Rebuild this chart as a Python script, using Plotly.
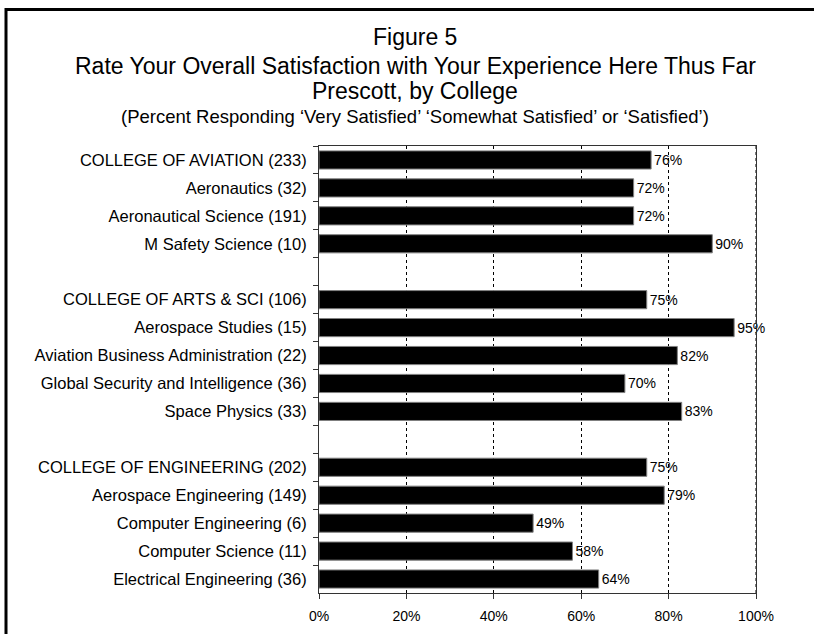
import plotly.graph_objects as go

# survey data (blank rows separate the colleges)
programs = [
    "COLLEGE OF AVIATION (233)",
    "Aeronautics (32)",
    "Aeronautical Science (191)",
    "M Safety Science (10)",
    " ",
    "COLLEGE OF ARTS & SCI (106)",
    "Aerospace Studies (15)",
    "Aviation Business Administration (22)",
    "Global Security and Intelligence (36)",
    "Space Physics (33)",
    "  ",
    "COLLEGE OF ENGINEERING (202)",
    "Aerospace Engineering (149)",
    "Computer Engineering (6)",
    "Computer Science (11)",
    "Electrical Engineering (36)",
]
pct_satisfied = [76, 72, 72, 90, None, 75, 95, 82, 70, 83, None, 75, 79, 49, 58, 64]
x_ticks = [0, 20, 40, 60, 80, 100]
x_tick_labels = ["0%", "20%", "40%", "60%", "80%", "100%"]

title_lines = [
    "Figure 5",
    "Rate Your Overall Satisfaction with Your Experience Here Thus Far",
    "Prescott, by College",
]
subtitle = "(Percent Responding \u2018Very Satisfied\u2019 \u2018Somewhat Satisfied\u2019 or \u2018Satisfied\u2019)"

W, H = 814, 634
L, R, T, B = 319, 58, 146, 41
FONT = "Liberation Sans, Arial, sans-serif"


def px(x):
    return (x - L) / (W - L - R)


def py(y):
    return (H - B - y) / (H - T - B)


bar_text = ["" if v is None else "%d%%" % v for v in pct_satisfied]

fig = go.Figure()
fig.add_trace(go.Bar(
    x=pct_satisfied, y=programs, orientation="h",
    width=0.65,
    marker=dict(color="black", line=dict(color="#808080", width=1)),
    text=bar_text, textposition="outside", cliponaxis=False,
    textfont=dict(size=14, color="black", family=FONT),
    hoverinfo="skip",
))

# title block
for txt, yc, sz in [(title_lines[0], 37, 23), (title_lines[1], 66, 23),
                    (title_lines[2], 91, 23), (subtitle, 116, 18.5)]:
    fig.add_annotation(text=txt, x=px(415), y=py(yc), xref="paper", yref="paper",
                       xanchor="center", yanchor="middle", showarrow=False,
                       font=dict(size=sz, color="black", family=FONT))

# frame around the whole chart (cut off at right and bottom)
fig.add_shape(type="line", xref="paper", yref="paper", x0=px(5), x1=px(W + 10),
              y0=py(9.5), y1=py(9.5), line=dict(color="black", width=3))
fig.add_shape(type="line", xref="paper", yref="paper", x0=px(6), x1=px(6),
              y0=py(8), y1=py(H + 10), line=dict(color="black", width=3))
# dotted line over the right plot border
fig.add_shape(type="line", xref="x", yref="paper", x0=100, x1=100, y0=0, y1=1,
              line=dict(color="black", width=1, dash="dot"), layer="above")

fig.update_xaxes(
    range=[0, 100], tickvals=x_ticks, ticktext=x_tick_labels,
    showgrid=True, gridcolor="black", griddash="dot", gridwidth=1,
    zeroline=False, showline=True, linecolor="#333333", linewidth=1, mirror=True,
    ticks="outside", ticklen=5, tickcolor="#333333", ticklabelstandoff=5,
    tickfont=dict(size=14, color="black", family=FONT),
)
fig.update_yaxes(
    autorange="reversed", showgrid=False, showline=True, linecolor="#333333",
    linewidth=1, mirror=True,
    ticks="outside", ticklen=5, tickcolor="#333333", tickson="boundaries",
    ticklabelstandoff=8,
    tickfont=dict(size=16.5, color="black", family=FONT),
)
fig.update_layout(
    width=W, height=H,
    margin=dict(l=L, r=R, t=T, b=B, autoexpand=False),
    paper_bgcolor="white", plot_bgcolor="white",
    showlegend=False, bargap=0.35,
    font=dict(family=FONT, color="black"),
)

fig.write_html("out.html", config={"displayModeBar": False},
               post_script="document.body.style.margin='0px';")
